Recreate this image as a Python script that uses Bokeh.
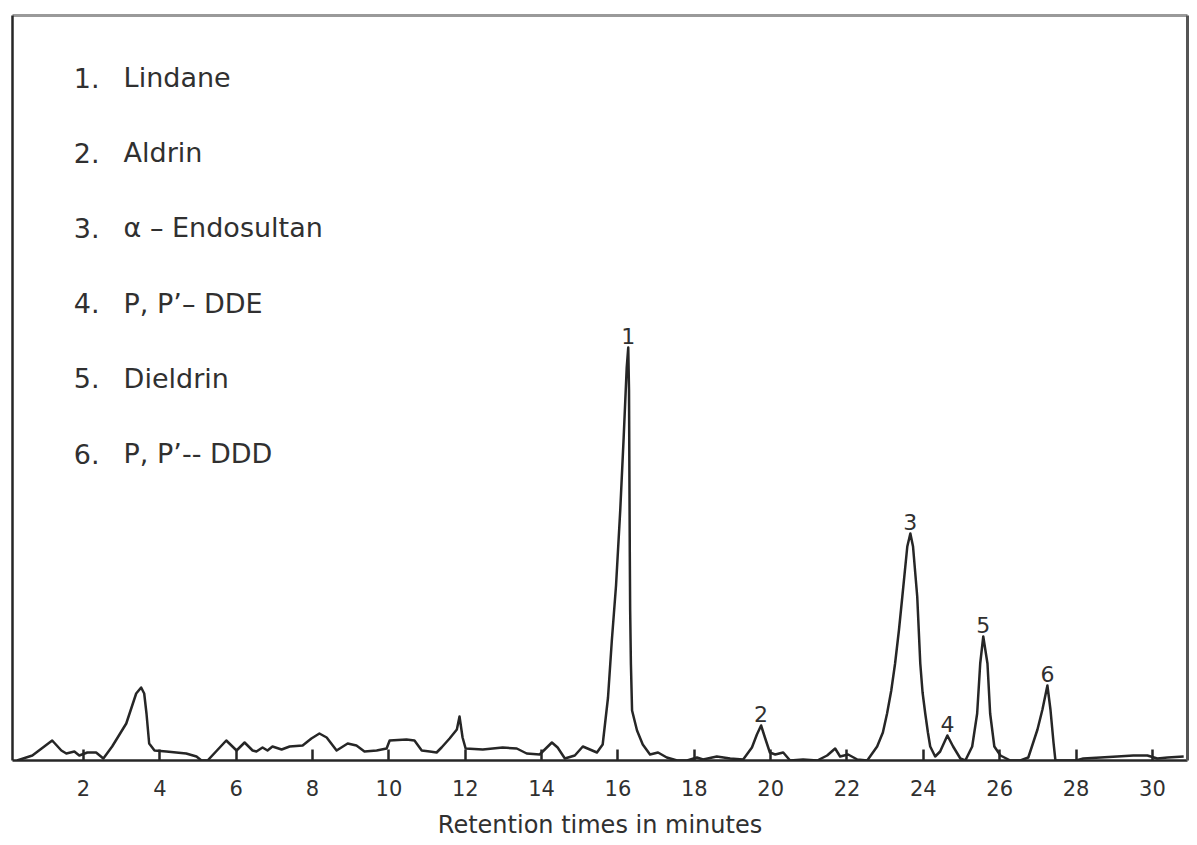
from bokeh.plotting import figure
from bokeh.models import Range1d, LinearAxis, FixedTicker, ColumnDataSource
from bokeh.core.properties import value
from bokeh.embed import file_html
from bokeh.resources import INLINE

# ---------------- data ----------------
# retention time (min) and detector response (arbitrary units)
time_min = [0.26, 0.66, 1.18, 1.42, 1.55, 1.76, 1.89, 2.10, 2.33, 2.52, 2.75, 3.12,
            3.38, 3.51, 3.59, 3.65, 3.72, 3.86, 4.17, 4.69, 4.96, 5.09, 5.25, 5.74,
            6.01, 6.22, 6.43, 6.53, 6.69, 6.82, 6.95, 7.19, 7.40, 7.74, 7.97, 8.18,
            8.37, 8.63, 8.92, 9.15, 9.36, 9.68, 9.94, 10.02, 10.46, 10.67, 10.86, 11.07,
            11.25, 11.38, 11.59, 11.78, 11.85, 11.93, 12.01, 12.46, 12.98, 13.35, 13.61, 13.95,
            14.27, 14.42, 14.61, 14.87, 15.08, 15.45, 15.60, 15.74, 15.84, 15.95, 16.06, 16.15,
            16.23, 16.27, 16.29, 16.30, 16.31, 16.32, 16.34, 16.37, 16.50, 16.65, 16.84, 17.05,
            17.28, 17.55, 17.81, 18.07, 18.23, 18.59, 18.94, 19.28, 19.51, 19.64, 19.75, 19.85,
            19.98, 20.12, 20.33, 20.51, 20.85, 21.22, 21.48, 21.69, 21.82, 22.03, 22.27, 22.53,
            22.79, 22.94, 23.05, 23.16, 23.26, 23.36, 23.45, 23.58, 23.66, 23.73, 23.84, 23.92,
            23.98, 24.05, 24.12, 24.18, 24.31,
            24.44, 24.63, 24.78, 24.97, 25.10, 25.28, 25.41, 25.49, 25.57, 25.68, 25.75, 25.86,
            26.02, 26.28, 26.54, 26.75, 26.99, 27.12, 27.25, 27.33, 27.41, 27.46, 27.77, 28.00,
            28.19, 28.64, 29.08, 29.50, 29.87, 30.13, 30.40, 30.82]
response = [0, 5, 20, 10, 7, 9, 5, 8, 8, 2, 14, 37,
            67, 73, 67, 47, 17, 10, 9, 7, 4, 0, 0, 20,
            10, 18, 10, 9, 13, 10, 14, 11, 14, 15, 22, 27,
            23, 10, 17, 15, 9, 10, 12, 20, 21, 20, 10, 9,
            8, 13, 22, 31, 44, 23, 12, 11, 13, 12, 7, 6,
            18, 13, 2, 5, 14, 8, 16, 63, 120, 175, 250, 323,
            393, 413, 370, 290, 210, 150, 96, 50, 30, 16, 6, 8,
            3, 0, 0, 3, 1, 4, 2, 1, 13, 26, 35, 23,
            8, 6, 8, 0, 1, 0, 5, 12, 4, 6, 1, 0,
            14, 28, 47, 70, 97, 130, 164, 214, 227, 214, 164, 97,
            68, 47, 28, 14, 4,
            9, 25, 14, 2, 0, 14, 47, 97, 124, 97, 47, 14,
            5, 0, 0, 3, 31, 51, 75, 51, 18, 0, 0, 0,
            2, 3, 4, 5, 5, 2, 3, 4]

peak_labels = ["1", "2", "3", "4", "5", "6"]
peak_times = [16.27, 19.75, 23.66, 24.63, 25.57, 27.25]
peak_heights = [413, 35, 227, 25, 124, 75]

compound_numbers = ["1.", "2.", "3.", "4.", "5.", "6."]
compound_names = ["Lindane", "Aldrin", "\u03b1 \u2013 Endosultan",
                  "P, P\u2019\u2013 DDE", "Dieldrin", "P, P\u2019-- DDD"]

x_ticks = [2, 4, 6, 8, 10, 12, 14, 16, 18, 20, 22, 24, 26, 28, 30]
tick_labels = ["2", "4", "6", "8", "10", "12", "14", "16", "18", "20",
               "22", "24", "26", "28", "30"]
x_title = "Retention times in minutes"

# ---------------- figure ----------------
FONT = "DejaVu Sans"
INK = "#262626"
TXT = "#303030"

p = figure(width=1197, height=845, x_range=Range1d(0.14, 30.92), y_range=Range1d(0, 745),
           output_backend="svg", toolbar_location=None,
           min_border_left=12, min_border_right=10, min_border_top=15, min_border_bottom=85)
p.outline_line_color = None
p.xgrid.visible = False
p.ygrid.visible = False
p.background_fill_color = "white"
p.border_fill_color = "white"

# trace
p.line(time_min, response, line_color=INK, line_width=2.5, line_join="round")

# peak numbers
p.text(x=peak_times, y=[h + 12 for h in peak_heights], text=peak_labels,
       text_font=value(FONT), text_font_size="22px", text_color=TXT,
       text_align="center", text_baseline="alphabetic")

# compound list (key)
row_top = 683.0
row_step = 75.2
rows_y = [row_top - i * row_step for i in range(len(compound_names))]
src = ColumnDataSource(dict(xn=[2.42] * len(compound_numbers), xt=[3.05] * len(compound_names),
                            y=rows_y, num=compound_numbers, name=compound_names))
p.text(x="xn", y="y", text="num", source=src, text_font=value(FONT), text_font_size="27px",
       text_color=TXT, text_align="right", text_baseline="middle")
p.text(x="xt", y="y", text="name", source=src, text_font=value(FONT), text_font_size="27px",
       text_color=TXT, text_align="left", text_baseline="middle")

# bottom axis
xa = p.xaxis[0]
xa.ticker = FixedTicker(ticks=x_ticks)
xa.major_label_overrides = dict(zip(x_ticks, tick_labels))
xa.major_tick_in = 11
xa.major_tick_out = 0
xa.major_tick_line_width = 2.5
xa.major_tick_line_color = INK
xa.minor_tick_line_color = None
xa.axis_line_width = 2.5
xa.axis_line_color = INK
xa.major_label_text_font = FONT
xa.major_label_text_font_size = "21px"
xa.major_label_text_color = TXT
xa.major_label_standoff = 19
xa.axis_label = x_title
xa.axis_label_text_font = FONT
xa.axis_label_text_font_size = "24px"
xa.axis_label_text_font_style = "normal"
xa.axis_label_text_color = TXT
xa.axis_label_standoff = 12

# left axis: just the line
ya = p.yaxis[0]
ya.ticker = FixedTicker(ticks=[])
ya.major_tick_line_color = None
ya.minor_tick_line_color = None
ya.major_label_text_font_size = "0px"
ya.axis_line_width = 2.5
ya.axis_line_color = INK

# top and right frame lines
top_axis = LinearAxis(ticker=FixedTicker(ticks=[]), axis_line_color="#9a9a9a", axis_line_width=3,
                      major_tick_line_color=None, minor_tick_line_color=None,
                      major_label_text_font_size="0px")
p.add_layout(top_axis, "above")
right_axis = LinearAxis(ticker=FixedTicker(ticks=[]), axis_line_color="#555555", axis_line_width=3,
                        major_tick_line_color=None, minor_tick_line_color=None,
                        major_label_text_font_size="0px")
p.add_layout(right_axis, "right")

open("out.html", "w").write(file_html(p, INLINE))
